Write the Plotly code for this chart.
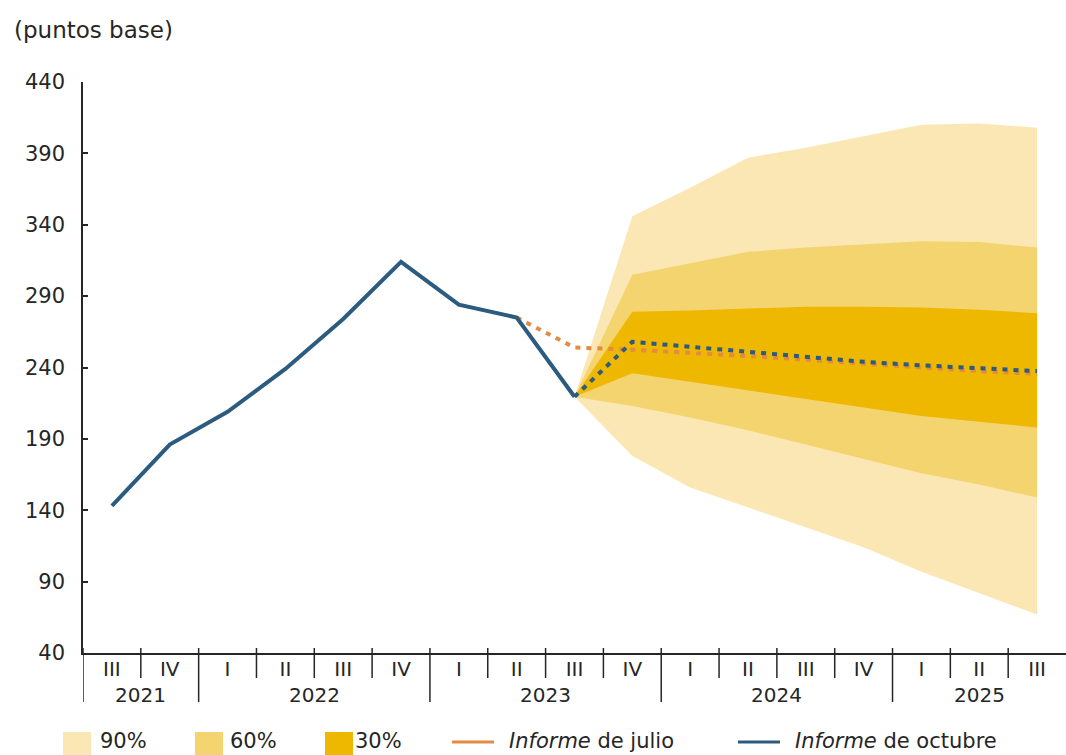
import plotly.graph_objects as go

# Quarter labels and the year each quarter belongs to
quarters = ["III", "IV", "I", "II", "III", "IV", "I", "II", "III",
            "IV", "I", "II", "III", "IV", "I", "II", "III"]
years = ["2021", "2021", "2022", "2022", "2022", "2022", "2023", "2023", "2023",
         "2023", "2024", "2024", "2024", "2024", "2025", "2025", "2025"]

# Observed spread, 2021 III - 2023 III (basis points)
observed = [143, 186, 209, 239, 274, 314, 284, 275, 219.5]
# October report projection, 2023 III - 2025 III
october = [219.5, 258, 254.5, 251, 247.5, 244, 241.5, 239.5, 237.5]
# July report projection, 2023 II - 2025 III
july = [275, 254, 252.5, 250.5, 248, 245.5, 242.5, 240, 237.5, 235.5]

# Fan chart bands, 2023 III - 2025 III
band90_hi = [219.5, 346, 366, 387, 394, 402, 410, 411, 408]
band90_lo = [219.5, 178, 156, 142, 128, 114, 97, 82, 67]
band60_hi = [219.5, 305, 313, 321, 324, 326.5, 328.5, 328, 324]
band60_lo = [219.5, 213, 205, 196, 186, 176, 166, 158, 149]
band30_hi = [219.5, 279, 280, 281.5, 282.5, 282.5, 282, 280.5, 278]
band30_lo = [219.5, 236, 230, 224, 218, 212, 206, 202, 198]

C90, C60, C30 = "#FAE7B3", "#F4D46E", "#EEB700"
BLUE, ORANGE = "#2B5B7F", "#E38B42"
INK = "#262626"
FONT = "DejaVu Sans"
FS = 21
FX = 20

idx = list(range(len(quarters)))


def xs(start, stop):
    return idx[start:stop]


fig = go.Figure()

for lo, hi, col, name in [(band90_lo, band90_hi, C90, "90%"),
                          (band60_lo, band60_hi, C60, "60%"),
                          (band30_lo, band30_hi, C30, "30%")]:
    fig.add_trace(go.Scatter(x=xs(8, 17), y=lo, mode="lines",
                             line=dict(width=0, color=col),
                             showlegend=False, hoverinfo="skip"))
    fig.add_trace(go.Scatter(x=xs(8, 17), y=hi, mode="lines", fill="tonexty",
                             fillcolor=col, line=dict(width=0, color=col),
                             name=name))

fig.add_trace(go.Scatter(x=xs(7, 17), y=july, mode="lines",
                         line=dict(color=ORANGE, width=4, dash="5px,6px"),
                         name="Informe de julio"))
fig.add_trace(go.Scatter(x=xs(8, 17), y=october, mode="lines",
                         line=dict(color=BLUE, width=4, dash="5px,6px"),
                         name="Informe de octubre"))
fig.add_trace(go.Scatter(x=xs(0, 9), y=observed, mode="lines",
                         line=dict(color=BLUE, width=4),
                         name="Informe de octubre"))

W, H = 1066, 755
L, R, T, B = 83, 0, 82, 102
PW, PH = W - L - R, H - T - B


def px(xp):
    return (xp - L) / PW


def py(yp):
    return (H - B - yp) / PH


shapes, annotations = [], []

# Quarter separators below the axis; longer ones mark the change of year
for i in range(-1, len(quarters) - 1):
    new_year = i < 0 or years[i] != years[i + 1]
    shapes.append(dict(type="line", xref="x", yref="paper",
                       x0=i + 0.5, x1=i + 0.5, y0=py(648),
                       y1=py(702 if new_year else 678),
                       line=dict(color=INK, width=1.5)))

# Year labels centred under their quarters
for y in dict.fromkeys(years):
    pos = [i for i in idx if years[i] == y]
    annotations.append(dict(xref="x", yref="paper", x=sum(pos) / len(pos),
                            y=py(695), xanchor="center", yanchor="middle",
                            showarrow=False, text=y,
                            font=dict(size=FX, color=INK, family=FONT)))

# Legend: colour swatches, line samples and labels
for x0, col, label in [(63, C90, "90%"), (195, C60, "60%"), (325, C30, "30%")]:
    shapes.append(dict(type="rect", xref="paper", yref="paper",
                       x0=px(x0), x1=px(x0 + 28), y0=py(732), y1=py(760),
                       fillcolor=col, line=dict(width=0)))
for x0, label in [(98, "90%"), (228, "60%"), (353, "30%")]:
    annotations.append(dict(xref="paper", yref="paper", x=px(x0), y=py(755),
                            xanchor="left", yanchor="bottom", showarrow=False,
                            text=label, font=dict(size=FS, color=INK, family=FONT)))
for x0, col, tx, label in [(452, ORANGE, 507, "<i>Informe</i> de julio"),
                           (738, BLUE, 793, "<i>Informe</i> de octubre")]:
    shapes.append(dict(type="line", xref="paper", yref="paper",
                       x0=px(x0), x1=px(x0 + 42), y0=py(742), y1=py(742),
                       line=dict(color=col, width=3)))
    annotations.append(dict(xref="paper", yref="paper", x=px(tx), y=py(755),
                            xanchor="left", yanchor="bottom", showarrow=False,
                            text=label, font=dict(size=FS, color=INK, family=FONT)))

annotations.append(dict(xref="paper", yref="paper", x=px(12), y=py(30),
                        xanchor="left", yanchor="middle", showarrow=False,
                        text="(puntos base)",
                        font=dict(size=23, color=INK, family=FONT)))

fig.update_layout(
    width=W, height=H,
    margin=dict(l=L, r=R, t=T, b=B),
    paper_bgcolor="white", plot_bgcolor="white",
    font=dict(family=FONT, size=FS, color=INK),
    showlegend=False,
    shapes=shapes, annotations=annotations,
    xaxis=dict(range=[-0.5, 16.5], tickmode="array", tickvals=idx, ticktext=quarters,
               showline=True, linecolor=INK, linewidth=1.5,
               ticks="", ticklabelstandoff=-3,
               showgrid=False, zeroline=False,
               tickfont=dict(size=FX, color=INK, family=FONT)),
    yaxis=dict(range=[40, 440], tick0=40, dtick=50,
               showline=True, linecolor=INK, linewidth=1.5,
               ticks="inside", ticklen=5, tickwidth=1.5, tickcolor=INK,
               ticklabelstandoff=12,
               showgrid=False, zeroline=False,
               tickfont=dict(size=FS, color=INK, family=FONT)),
)

fig.write_html("out.html")
